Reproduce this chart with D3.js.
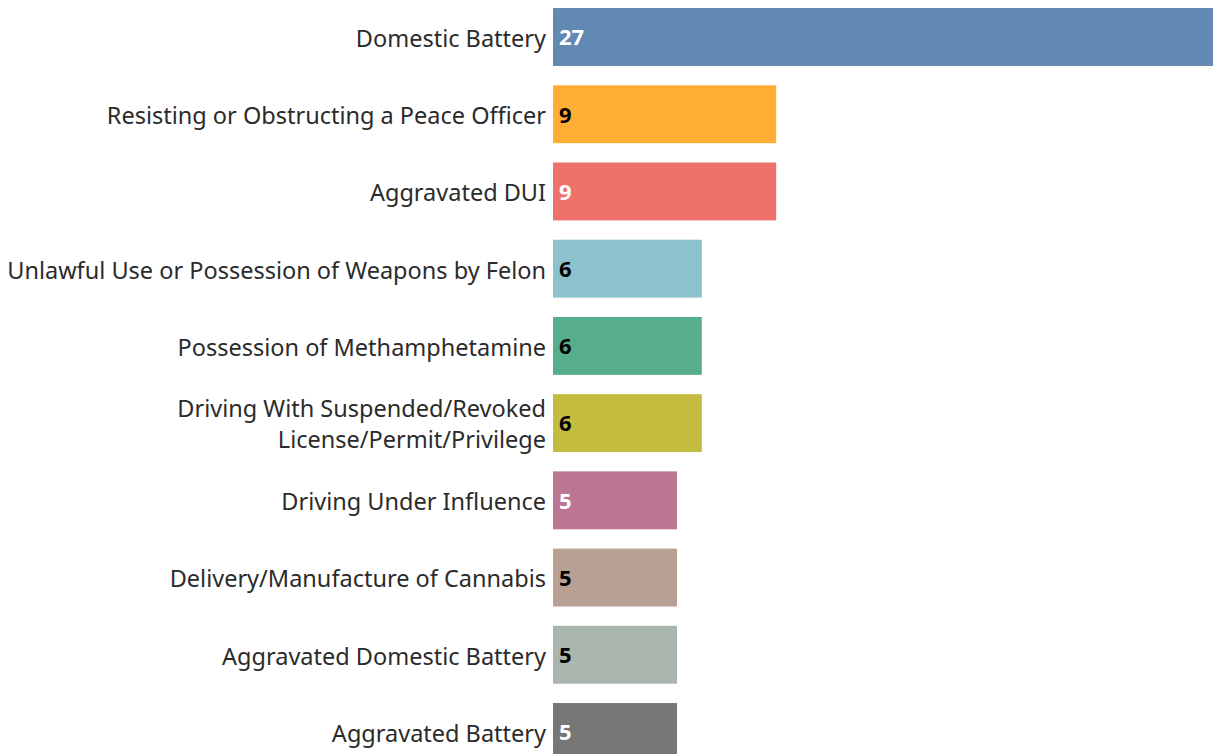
<!DOCTYPE html>
<html><head><meta charset="utf-8">
<script src="https://cdn.jsdelivr.net/npm/d3@7"></script>
<style>html,body{margin:0;padding:0;background:#fff;overflow:hidden}</style>
</head><body>
<svg id="chart" width="1213" height="754"></svg>
<script>
const categories = [
  ["Domestic Battery"],
  ["Resisting or Obstructing a Peace Officer"],
  ["Aggravated DUI"],
  ["Unlawful Use or Possession of Weapons by Felon"],
  ["Possession of Methamphetamine"],
  ["Driving With Suspended/Revoked", "License/Permit/Privilege"],
  ["Driving Under Influence"],
  ["Delivery/Manufacture of Cannabis"],
  ["Aggravated Domestic Battery"],
  ["Aggravated Battery"]
];
const values = [27, 9, 9, 6, 6, 6, 5, 5, 5, 5];
const colors = ["#6288b4", "#ffad34", "#ef716b", "#8cc2cb", "#56ae8a", "#c4bc3f", "#bc7592", "#b9a094", "#aab5ae", "#777777"];
const labelColors = ["#fff", "#000", "#fff", "#000", "#000", "#000", "#fff", "#000", "#000", "#fff"];

const svg = d3.select("#chart");
const x = d3.scaleLinear().domain([0, 27]).range([553, 1222.6]);
const y = d3.scaleBand().domain(d3.range(values.length)).range([-1.6, 770.6]).paddingInner(0.25).paddingOuter(0.125);

const g = svg.append("g");
const rows = g.selectAll("g.row").data(values).join("g").attr("class", "row");

rows.append("rect")
  .attr("x", x(0))
  .attr("y", (d, i) => y(i))
  .attr("width", d => x(d) - x(0))
  .attr("height", y.bandwidth())
  .attr("fill", (d, i) => colors[i]);

rows.append("text")
  .attr("x", x(0) + 6)
  .attr("y", (d, i) => y(i) + y.bandwidth() / 2)
  .attr("dy", "0.38em")
  .attr("font-family", "'Noto Sans', sans-serif")
  .attr("font-weight", "bold")
  .attr("font-size", 22)
  .attr("fill", (d, i) => labelColors[i])
  .text(d => d);

const lab = rows.append("text")
  .attr("text-anchor", "end")
  .attr("font-family", "'Noto Sans', sans-serif")
  .attr("font-size", 23.5)
  .attr("fill", "#2b2b2b");
lab.each(function(d, i) {
  const lines = categories[i];
  const cy = y(i) + y.bandwidth() / 2;
  const lh = 31;
  lines.forEach((t, k) => {
    d3.select(this).append("tspan")
      .attr("x", 546)
      .attr("y", cy + (k - (lines.length - 1) / 2) * lh)
      .attr("dy", "0.42em")
      .text(t);
  });
});
</script>
</body></html>
